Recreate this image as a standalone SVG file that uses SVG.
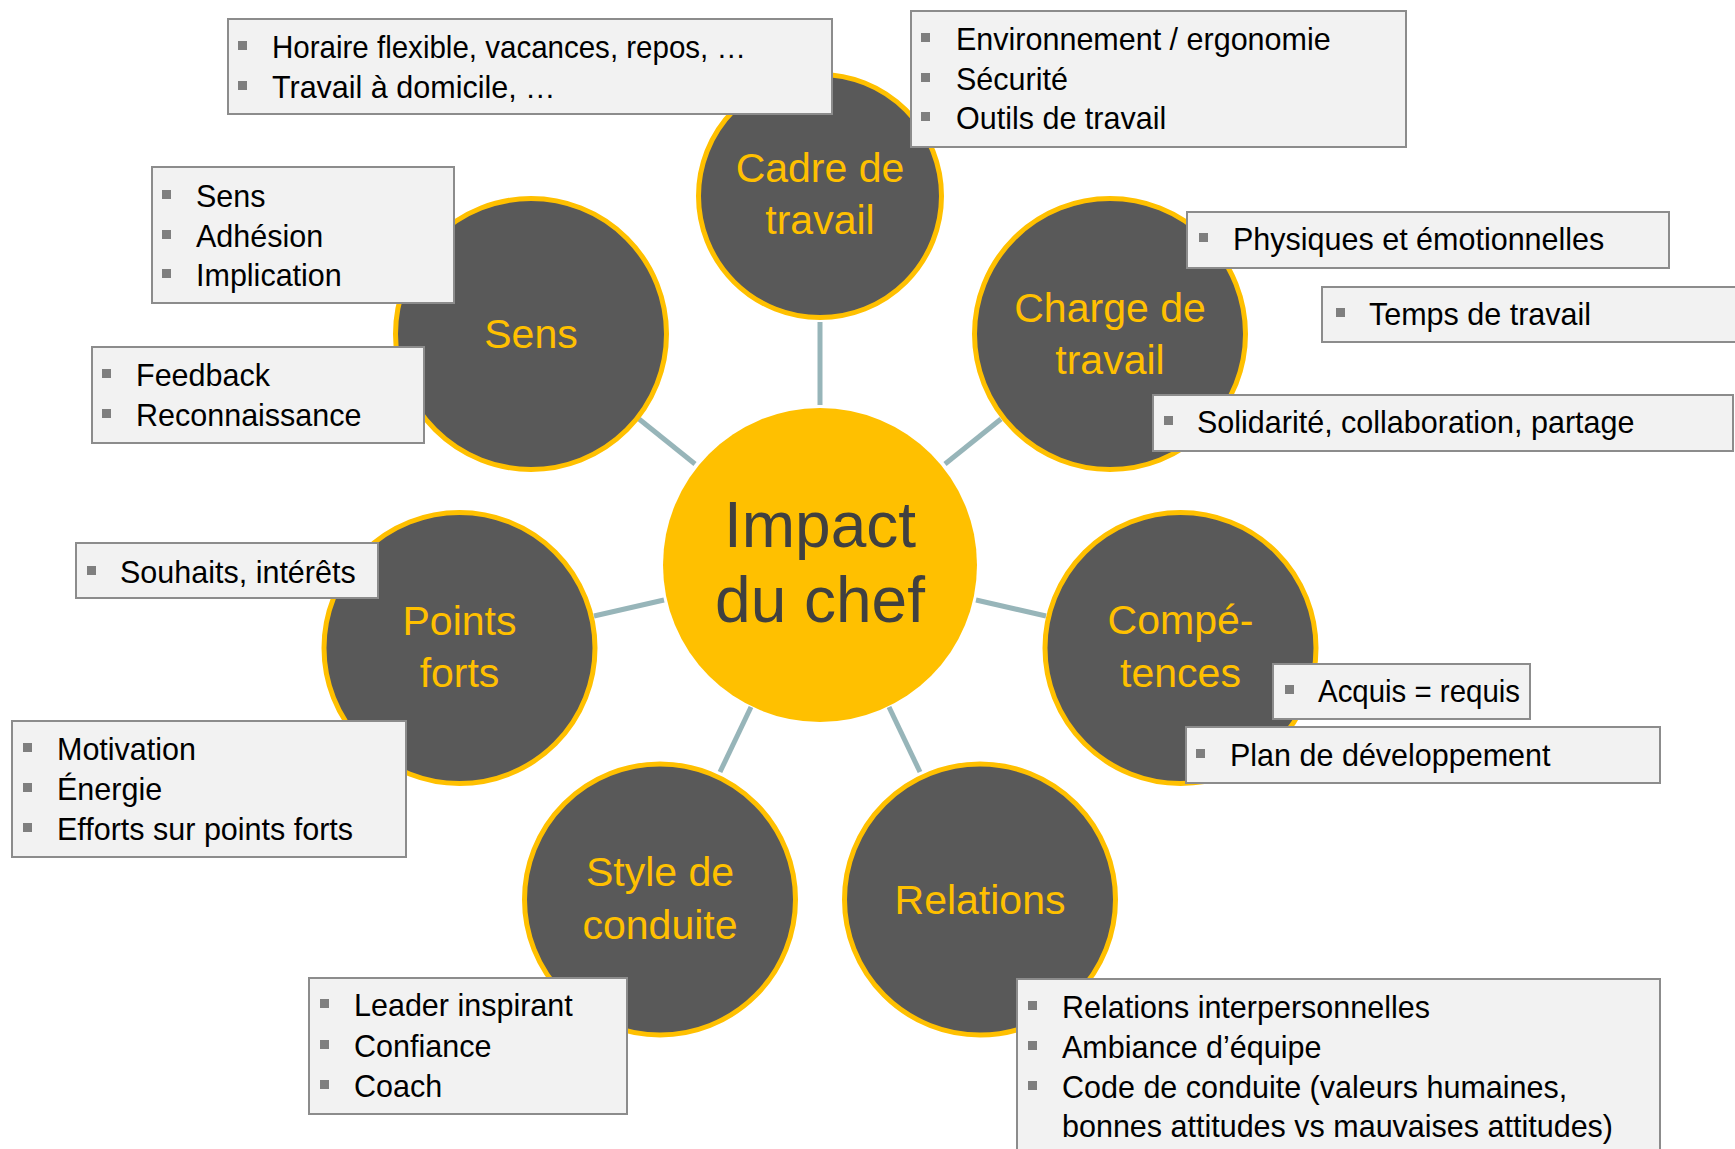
<svg xmlns="http://www.w3.org/2000/svg" width="1735" height="1149" viewBox="0 0 1735 1149">
<style>
.bg{fill:#ffffff}
.node{fill:#595959;stroke:#FFC000;stroke-width:5}
.core{fill:#FFC000}
.lbl{font-family:"Liberation Sans",Arial,sans-serif;font-size:41px;fill:#FFC000;text-anchor:middle}
.corelbl{font-family:"Liberation Sans",Arial,sans-serif;font-size:64px;fill:#404040;text-anchor:middle}
.conn line{stroke:#97B5B9;stroke-width:5}
.box{fill:#F2F2F2;stroke:#8C8C8C;stroke-width:2}
.bul{fill:#7F7F7F}
.txt{font-family:"Liberation Sans",Arial,sans-serif;font-size:30.5px;fill:#000000}
</style>
<rect class="bg" x="0" y="0" width="1735" height="1149"/>

<g id="connectors" class="conn">
  <line x1="820" y1="405" x2="820" y2="322"/>
  <line x1="695" y1="464" x2="639" y2="419"/>
  <line x1="945" y1="464" x2="1001" y2="419"/>
  <line x1="664" y1="600" x2="594" y2="616"/>
  <line x1="976" y1="600" x2="1046" y2="616"/>
  <line x1="751" y1="707" x2="720" y2="772"/>
  <line x1="889" y1="707" x2="920" y2="772"/>
</g>

<g id="node-center">
  <circle class="core" cx="820" cy="565" r="157"/>
  <text class="corelbl" x="820" y="547">Impact</text>
  <text class="corelbl" x="820" y="622">du chef</text>
</g>

<g id="node-cadre">
  <circle class="node" cx="820" cy="196" r="121.5"/>
  <text class="lbl" x="820" y="182">Cadre de</text>
  <text class="lbl" x="820" y="234">travail</text>
</g>

<g id="node-sens">
  <circle class="node" cx="531" cy="334" r="135.5"/>
  <text class="lbl" x="531" y="348">Sens</text>
</g>

<g id="node-charge">
  <circle class="node" cx="1110" cy="334" r="135.5"/>
  <text class="lbl" x="1110" y="322">Charge de</text>
  <text class="lbl" x="1110" y="374">travail</text>
</g>

<g id="node-points">
  <circle class="node" cx="459.5" cy="648" r="135.5"/>
  <text class="lbl" x="459.5" y="635">Points</text>
  <text class="lbl" x="459.5" y="687">forts</text>
</g>

<g id="node-competences">
  <circle class="node" cx="1180.5" cy="648" r="135.5"/>
  <text class="lbl" x="1180.5" y="634">Compé-</text>
  <text class="lbl" x="1180.5" y="687">tences</text>
</g>

<g id="node-style">
  <circle class="node" cx="660" cy="899.5" r="135.5"/>
  <text class="lbl" x="660" y="886">Style de</text>
  <text class="lbl" x="660" y="939">conduite</text>
</g>

<g id="node-relations">
  <circle class="node" cx="980" cy="899.5" r="135.5"/>
  <text class="lbl" x="980" y="914">Relations</text>
</g>

<g id="box-horaire">
  <rect class="box" x="228" y="19" width="604" height="95"/>
  <rect class="bul" x="238" y="41" width="9" height="9"/>
  <text class="txt" x="272" y="58" textLength="474" lengthAdjust="spacingAndGlyphs">Horaire flexible, vacances, repos, …</text>
  <rect class="bul" x="238" y="81" width="9" height="9"/>
  <text class="txt" x="272" y="98">Travail à domicile, …</text>
</g>

<g id="box-environnement">
  <rect class="box" x="911" y="11" width="495" height="136"/>
  <rect class="bul" x="921" y="33" width="9" height="9"/>
  <text class="txt" x="956" y="50">Environnement / ergonomie</text>
  <rect class="bul" x="921" y="73" width="9" height="9"/>
  <text class="txt" x="956" y="90">Sécurité</text>
  <rect class="bul" x="921" y="112" width="9" height="9"/>
  <text class="txt" x="956" y="129">Outils de travail</text>
</g>

<g id="box-sens">
  <rect class="box" x="152" y="167" width="302" height="136"/>
  <rect class="bul" x="162" y="190" width="9" height="9"/>
  <text class="txt" x="196" y="207">Sens</text>
  <rect class="bul" x="162" y="230" width="9" height="9"/>
  <text class="txt" x="196" y="247">Adhésion</text>
  <rect class="bul" x="162" y="269" width="9" height="9"/>
  <text class="txt" x="196" y="286">Implication</text>
</g>

<g id="box-feedback">
  <rect class="box" x="92" y="347" width="332" height="96"/>
  <rect class="bul" x="102" y="369" width="9" height="9"/>
  <text class="txt" x="136" y="386">Feedback</text>
  <rect class="bul" x="102" y="409" width="9" height="9"/>
  <text class="txt" x="136" y="426">Reconnaissance</text>
</g>

<g id="box-physiques">
  <rect class="box" x="1187" y="212" width="482" height="56"/>
  <rect class="bul" x="1199" y="233" width="9" height="9"/>
  <text class="txt" x="1233" y="250">Physiques et émotionnelles</text>
</g>

<g id="box-temps">
  <rect class="box" x="1322" y="287" width="420" height="55"/>
  <rect class="bul" x="1336" y="308" width="9" height="9"/>
  <text class="txt" x="1369" y="325">Temps de travail</text>
</g>

<g id="box-solidarite">
  <rect class="box" x="1153" y="395" width="580" height="56"/>
  <rect class="bul" x="1164" y="416" width="9" height="9"/>
  <text class="txt" x="1197" y="433">Solidarité, collaboration, partage</text>
</g>

<g id="box-souhaits">
  <rect class="box" x="76" y="543" width="302" height="55"/>
  <rect class="bul" x="87" y="566" width="9" height="9"/>
  <text class="txt" x="120" y="583">Souhaits, intérêts</text>
</g>

<g id="box-motivation">
  <rect class="box" x="12" y="721" width="394" height="136"/>
  <rect class="bul" x="23" y="743" width="9" height="9"/>
  <text class="txt" x="57" y="760">Motivation</text>
  <rect class="bul" x="23" y="783" width="9" height="9"/>
  <text class="txt" x="57" y="800">Énergie</text>
  <rect class="bul" x="23" y="823" width="9" height="9"/>
  <text class="txt" x="57" y="840">Efforts sur points forts</text>
</g>

<g id="box-leader">
  <rect class="box" x="309" y="978" width="318" height="136"/>
  <rect class="bul" x="320" y="999" width="9" height="9"/>
  <text class="txt" x="354" y="1016">Leader inspirant</text>
  <rect class="bul" x="320" y="1040" width="9" height="9"/>
  <text class="txt" x="354" y="1057">Confiance</text>
  <rect class="bul" x="320" y="1080" width="9" height="9"/>
  <text class="txt" x="354" y="1097">Coach</text>
</g>

<g id="box-acquis">
  <rect class="box" x="1273" y="664" width="257" height="55"/>
  <rect class="bul" x="1285" y="685" width="9" height="9"/>
  <text class="txt" x="1318" y="702" textLength="202" lengthAdjust="spacingAndGlyphs">Acquis = requis</text>
</g>

<g id="box-plan">
  <rect class="box" x="1186" y="727" width="474" height="56"/>
  <rect class="bul" x="1196" y="749" width="9" height="9"/>
  <text class="txt" x="1230" y="766">Plan de développement</text>
</g>

<g id="box-relations">
  <rect class="box" x="1017" y="979" width="643" height="190"/>
  <rect class="bul" x="1028" y="1001" width="9" height="9"/>
  <text class="txt" x="1062" y="1018">Relations interpersonnelles</text>
  <rect class="bul" x="1028" y="1041" width="9" height="9"/>
  <text class="txt" x="1062" y="1058">Ambiance d’équipe</text>
  <rect class="bul" x="1028" y="1081" width="9" height="9"/>
  <text class="txt" x="1062" y="1098">Code de conduite (valeurs humaines,</text>
  <text class="txt" x="1062" y="1137">bonnes attitudes vs mauvaises attitudes)</text>
</g>
</svg>
